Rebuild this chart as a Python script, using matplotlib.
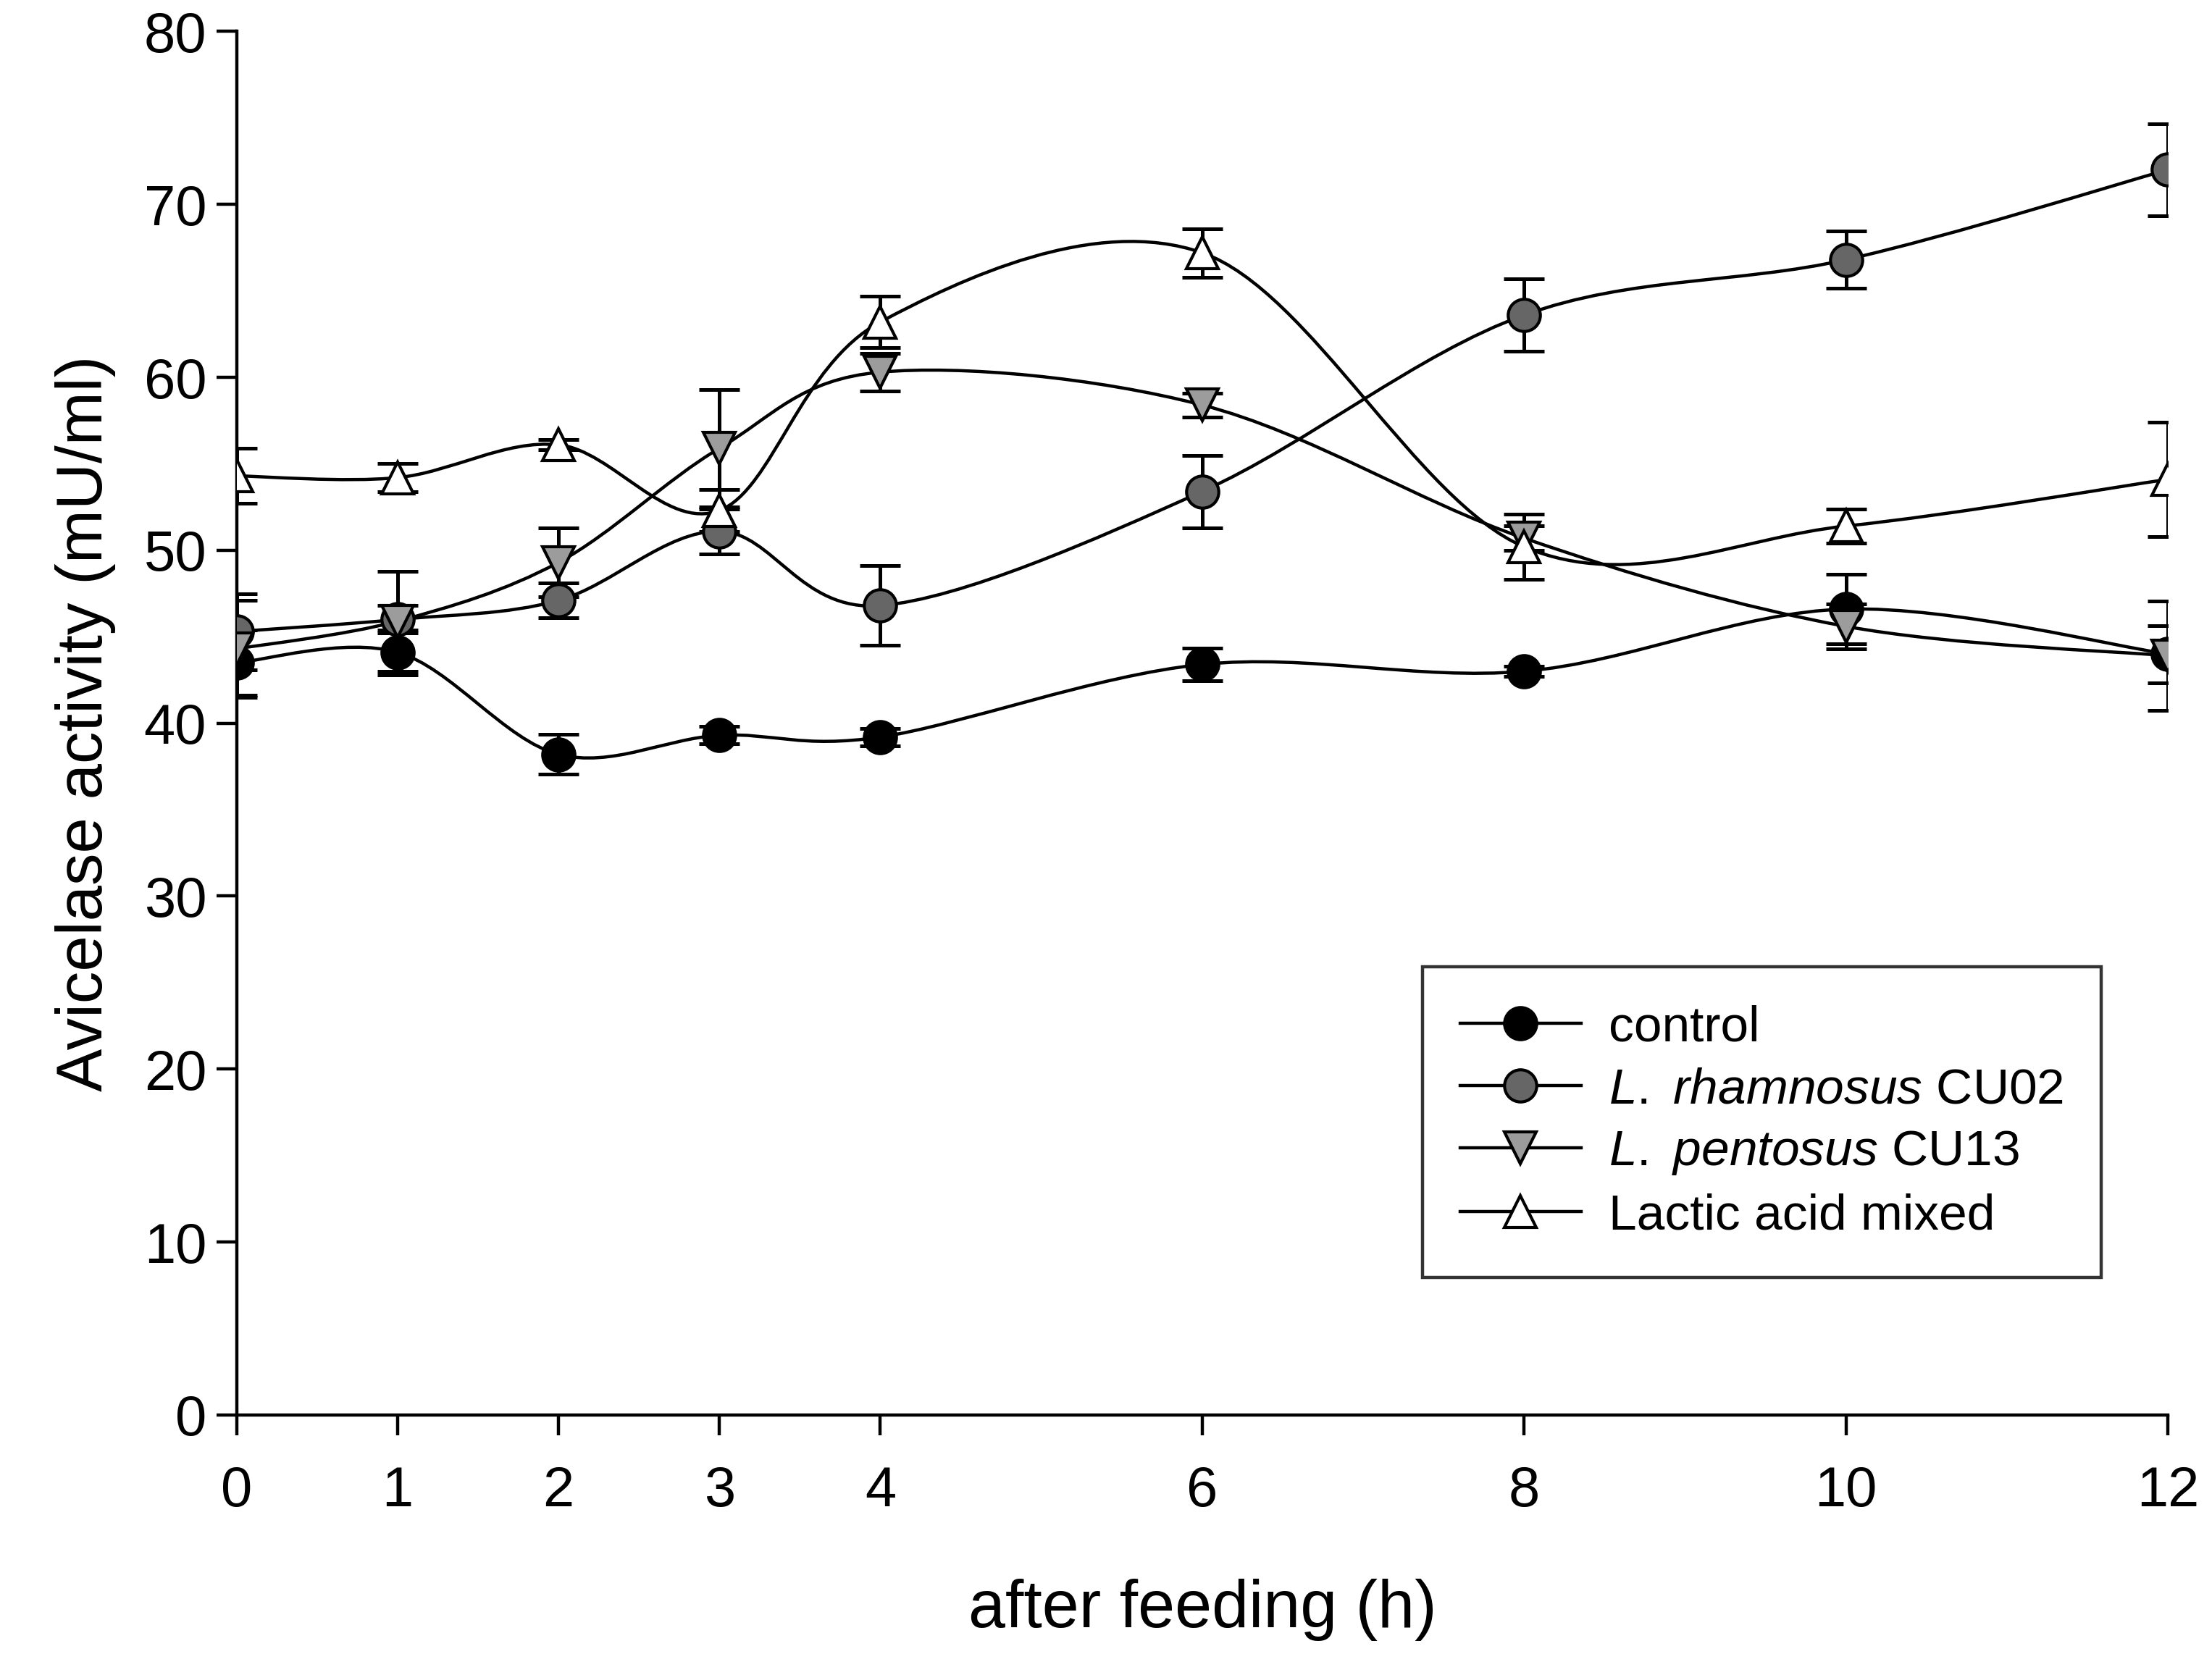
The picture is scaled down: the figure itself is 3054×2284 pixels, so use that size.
import numpy as np
import matplotlib
matplotlib.use("Agg")
import matplotlib.pyplot as plt
from matplotlib.path import Path
from matplotlib.patches import PathPatch
from matplotlib.lines import Line2D

plt.rcParams["font.family"] = ["Liberation Sans", "DejaVu Sans"]
plt.rcParams["mathtext.fontset"] = "custom"
plt.rcParams["mathtext.rm"] = "Liberation Sans"
plt.rcParams["mathtext.it"] = "Liberation Sans:italic"

# ---------- data -------------------------------------------------------------
hours = [0, 1, 2, 3, 4, 6, 8, 10, 12]

control = [43.5, 44.1, 38.2, 39.3, 39.2, 43.4, 43.0, 46.6, 44.0]
control_err = [1.9, 1.3, 1.15, 0.5, 0.5, 0.95, 0.3, 2.0, 1.65]

rhamnosus = [45.3, 46.0, 47.1, 51.1, 46.8, 53.4, 63.6, 66.8, 72.0]
rhamnosus_err = [2.2, 0.8, 1.0, 1.3, 2.3, 2.1, 2.1, 1.65, 2.65]

pentosus = [44.3, 45.9, 49.3, 55.9, 60.3, 58.4, 50.7, 45.6, 43.9]
pentosus_err = [2.8, 2.9, 2.0, 3.4, 1.1, 0.7, 0.7, 1.3, 3.15]

mixed = [54.3, 54.2, 56.1, 52.3, 63.2, 67.2, 50.2, 51.4, 54.1]
mixed_err = [1.6, 0.8, 0.3, 1.2, 1.5, 1.4, 1.9, 1.0, 3.3]

labels = ["control", r"$L.$ $rhamnosus$ CU02", r"$L.$ $pentosus$ CU13", "Lactic acid mixed"]
markers = ["o", "o", "v", "^"]
fills = ["black", "#666666", "#9c9c9c", "white"]

series = [(control, control_err), (rhamnosus, rhamnosus_err),
          (pentosus, pentosus_err), (mixed, mixed_err)]


def smooth_path(x, y):
    """Catmull-Rom curve through the points, as cubic Bezier segments."""
    pts = np.column_stack([x, y]).astype(float)
    ext = np.vstack([pts[0], pts, pts[-1]])
    verts = [pts[0]]
    codes = [Path.MOVETO]
    for i in range(1, len(ext) - 2):
        p0, p1, p2, p3 = ext[i - 1], ext[i], ext[i + 1], ext[i + 2]
        verts += [p1 + (p2 - p0) / 6.0, p2 - (p3 - p1) / 6.0, p2]
        codes += [Path.CURVE4] * 3
    return Path(verts, codes)


fig = plt.figure(figsize=(15.27, 11.42), dpi=200)
ax = fig.add_axes([0.107, 0.1445, 0.873, 0.8365])

handles = []
for (vals, errs), mk, fc, lab in zip(series, markers, fills, labels):
    ax.add_patch(PathPatch(smooth_path(hours, vals), fill=False,
                           edgecolor="black", linewidth=1.6, zorder=2))
    ax.errorbar(hours, vals, yerr=errs, fmt="none", ecolor="black",
                elinewidth=1.8, capsize=10, capthick=1.8, zorder=3)
    ax.plot(hours, vals, linestyle="none", marker=mk, markersize=16,
            markerfacecolor=fc, markeredgecolor="black", markeredgewidth=1.5, zorder=4)
    handles.append(Line2D([], [], color="black", linewidth=1.6, marker=mk,
                          markersize=16, markerfacecolor=fc,
                          markeredgecolor="black", markeredgewidth=1.5, label=lab))

ax.set_xlim(0, 12)
ax.set_ylim(0, 80)
ax.set_xticks(hours)
ax.set_yticks(np.arange(0, 81, 10))
for s in ["top", "right"]:
    ax.spines[s].set_visible(False)
for s in ["left", "bottom"]:
    ax.spines[s].set_linewidth(1.6)
ax.tick_params(axis="both", direction="out", length=10, width=1.6)
ax.tick_params(axis="x", labelsize=28, pad=15)
ax.tick_params(axis="y", labelsize=28, pad=5)

ax.set_xlabel("after feeding (h)", fontsize=33, labelpad=30)
ax.set_ylabel("Avicelase activity (mU/ml)", fontsize=32, labelpad=14)

leg = ax.legend(handles=handles, loc="upper left", bbox_to_anchor=(0.614, 0.324),
                borderaxespad=0, fontsize=25, frameon=True, fancybox=False,
                edgecolor="black", handlelength=2.4, borderpad=0.75,
                labelspacing=0.32, handletextpad=0.55)
leg.get_frame().set_linewidth(1.6)

fig.savefig("out.png", dpi=200)
